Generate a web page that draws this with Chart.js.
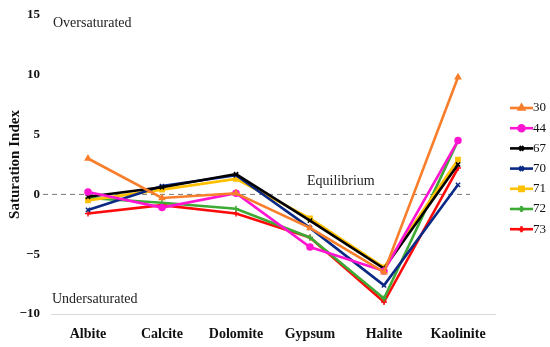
<!DOCTYPE html>
<html>
<head>
<meta charset="utf-8">
<script src="https://cdn.jsdelivr.net/npm/chart.js@4/dist/chart.umd.min.js"></script>
<style>
  html, body { margin: 0; padding: 0; background: #fff; }
  #wrap { width: 550px; height: 347px; }
</style>
</head>
<body>
<div id="wrap"><canvas id="grafico" width="550" height="347"></canvas></div>
<script>
// minerales en el eje x
const minerales = ['Albite', 'Calcite', 'Dolomite', 'Gypsum', 'Halite', 'Kaolinite'];

// índices de saturación por muestra
const s30 = [3.0, -0.3, 0.1, -2.8, -6.5, 9.8];
const s44 = [0.2, -1.1, 0.1, -4.4, -6.4, 4.5];
const s67 = [-0.2, 0.6, 1.7, -2.2, -6.2, 2.5];
const s70 = [-1.3, 0.7, 1.6, -2.8, -7.6, 0.8];
const s71 = [-0.5, 0.4, 1.3, -2.0, -6.1, 2.9];
const s72 = [-0.3, -0.7, -1.2, -3.6, -8.7, 4.5];
const s73 = [-1.6, -0.9, -1.6, -3.6, -9.0, 2.2];

const muestras = ['30', '44', '67', '70', '71', '72', '73'];
const ticksY = [-10, -5, 0, 5, 10, 15];

const serie = [s30, s44, s67, s70, s71, s72, s73];
const colores = ['#F97E2B', '#FF14D2', '#000000', '#0B2A86', '#FFC000', '#3DAA35', '#FF0A0A'];
const puntos = ['triangle', 'circle', 'crossRot', 'crossRot', 'rect', 'cross', 'cross'];

const fuente = "'Liberation Serif', 'DejaVu Serif', serif";

const datasets = muestras.map((m, i) => ({
  label: m,
  data: serie[i],
  borderColor: colores[i],
  backgroundColor: colores[i],
  borderWidth: 2.6,
  pointStyle: puntos[i],
  pointRadius: 3,
  pointBorderWidth: 1.5,
  tension: 0
}));

// textos, línea de equilibrio y leyenda
const extras = {
  id: 'extras',
  beforeDatasetsDraw(chart) {
    const { ctx, chartArea, scales } = chart;
    const y0 = scales.y.getPixelForValue(0);
    ctx.save();
    ctx.strokeStyle = '#777';
    ctx.lineWidth = 1;
    ctx.setLineDash([5, 4]);
    ctx.beginPath();
    ctx.moveTo(chartArea.left - 8, y0);
    ctx.lineTo(chartArea.right - 25, y0);
    ctx.stroke();
    ctx.restore();
  },
  afterDraw(chart) {
    const { ctx, chartArea, scales } = chart;
    ctx.save();
    ctx.fillStyle = '#222';
    ctx.font = '14px ' + fuente;
    ctx.textBaseline = 'middle';
    ctx.textAlign = 'left';
    ctx.fillText('Oversaturated', chartArea.left + 2, scales.y.getPixelForValue(14.3));
    ctx.fillText('Undersaturated', chartArea.left + 1, scales.y.getPixelForValue(-8.8));
    ctx.fillText('Equilibrium', 307, scales.y.getPixelForValue(1.1));

    // leyenda
    ctx.font = '13px ' + fuente;
    muestras.forEach((m, i) => {
      const y = 108 + i * 20.2;
      const x1 = 510, x2 = 533;
      ctx.strokeStyle = colores[i];
      ctx.fillStyle = colores[i];
      ctx.lineWidth = 2.6;
      ctx.beginPath();
      ctx.moveTo(x1, y);
      ctx.lineTo(x2, y);
      ctx.stroke();
      Chart.helpers.drawPoint(ctx, { pointStyle: puntos[i], radius: 3, borderWidth: 1.5 }, (x1 + x2) / 2, y);
      ctx.fillStyle = '#111';
      ctx.fillText(m, x2, y);
    });
    ctx.restore();
  }
};

new Chart(document.getElementById('grafico'), {
  type: 'line',
  data: { labels: minerales, datasets: datasets },
  options: {
    responsive: false,
    animation: false,
    layout: { padding: { top: 0, right: 55, bottom: 2, left: 2 } },
    plugins: {
      legend: { display: false },
      tooltip: { enabled: false }
    },
    scales: {
      x: {
        offset: true,
        afterFit(axis) { axis.height = 31; },
        grid: { display: false, drawTicks: false },
        border: { display: true, color: '#d9d9d9', width: 1 },
        ticks: {
          color: '#111',
          padding: 12,
          font: { family: fuente, size: 14, weight: 'bold' }
        }
      },
      y: {
        min: -10,
        max: 15,
        afterBuildTicks(axis) { axis.ticks = ticksY.map(v => ({ value: v })); },
        afterFit(axis) {
          axis.width = 49;
          axis.paddingTop = 15;
          axis.paddingBottom = 0;
        },
        grid: { display: false, drawTicks: false },
        border: { display: false },
        ticks: {
          color: '#111',
          padding: 11,
          font: { family: fuente, size: 13, weight: 'bold' },
          callback: v => String(v).replace('-', '\u2212')
        },
        title: {
          display: true,
          text: 'Saturation Index',
          color: '#111',
          padding: { top: 4, bottom: 0 },
          font: { family: fuente, size: 15, weight: 'bold' }
        }
      }
    }
  },
  plugins: [extras]
});
</script>
</body>
</html>
